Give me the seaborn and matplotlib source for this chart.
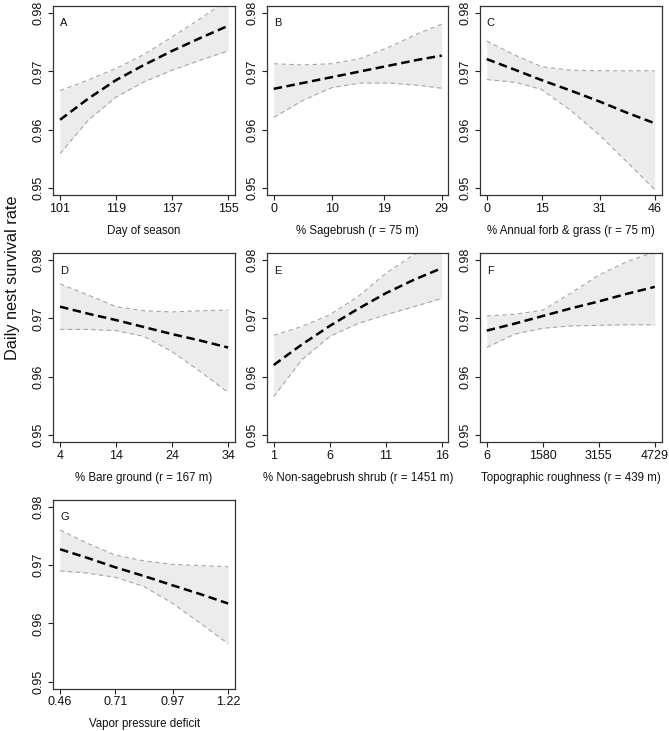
import matplotlib
matplotlib.use('Agg')
import matplotlib.pyplot as plt
import seaborn as sns

# Panel letters and x axis labels
letters = ['A', 'B', 'C', 'D', 'E', 'F', 'G']
x_labels = ['Day of season',
            '% Sagebrush (r = 75 m)',
            '% Annual forb & grass (r = 75 m)',
            '% Bare ground (r = 167 m)',
            '% Non-sagebrush shrub (r = 1451 m)',
            'Topographic roughness (r = 439 m)',
            'Vapor pressure deficit']
y_label = 'Daily nest survival rate'
y_ticks = [0.95, 0.96, 0.97, 0.98]
y_tick_labels = ['0.95', '0.96', '0.97', '0.98']

# A - day of season
a_ticks = [101, 119, 137, 155]
a_x = [101, 110, 119, 128, 137, 146, 155]
a_est = [0.9617, 0.9653, 0.9685, 0.9711, 0.9735, 0.9757, 0.9778]
a_hi = [0.9667, 0.9685, 0.9705, 0.9729, 0.9759, 0.9790, 0.9823]
a_lo = [0.9559, 0.9616, 0.9656, 0.9682, 0.9702, 0.9719, 0.9735]

# B - sagebrush
b_ticks = [0, 10, 19, 29]
b_x = [0, 5, 10, 15, 20, 25, 29]
b_est = [0.9670, 0.9680, 0.9690, 0.9700, 0.9710, 0.9720, 0.9727]
b_hi = [0.9713, 0.9711, 0.9713, 0.9722, 0.9742, 0.9765, 0.9781]
b_lo = [0.9621, 0.9650, 0.9672, 0.9680, 0.9680, 0.9676, 0.9671]

# C - annual forb & grass
c_ticks = [0, 15, 31, 46]
c_x = [0, 8, 15, 23, 31, 38, 46]
c_est = [0.9721, 0.9702, 0.9685, 0.9667, 0.9648, 0.9630, 0.9611]
c_hi = [0.9752, 0.9727, 0.9708, 0.9702, 0.9701, 0.9701, 0.9701]
c_lo = [0.9686, 0.9681, 0.9669, 0.9633, 0.9590, 0.9547, 0.9497]

# D - bare ground
d_ticks = [4, 14, 24, 34]
d_x = [4, 9, 14, 19, 24, 29, 34]
d_est = [0.9720, 0.9708, 0.9697, 0.9685, 0.9673, 0.9662, 0.9650]
d_hi = [0.9759, 0.9740, 0.9720, 0.9713, 0.9711, 0.9713, 0.9714]
d_lo = [0.9681, 0.9681, 0.9679, 0.9669, 0.9643, 0.9609, 0.9573]

# E - non-sagebrush shrub
e_ticks = [1, 6, 11, 16]
e_x = [1, 3.5, 6, 8.5, 11, 13.5, 16]
e_est = [0.9620, 0.9655, 0.9687, 0.9716, 0.9743, 0.9766, 0.9786]
e_hi = [0.9671, 0.9686, 0.9706, 0.9737, 0.9777, 0.9809, 0.9834]
e_lo = [0.9566, 0.9629, 0.9669, 0.9691, 0.9706, 0.9720, 0.9734]

# F - topographic roughness
f_ticks = [6, 1580, 3155, 4729]
f_x = [6, 793, 1580, 2367, 3155, 3942, 4729]
f_est = [0.9679, 0.9691, 0.9704, 0.9717, 0.9729, 0.9742, 0.9754]
f_hi = [0.9704, 0.9707, 0.9714, 0.9743, 0.9774, 0.9797, 0.9814]
f_lo = [0.9650, 0.9673, 0.9683, 0.9687, 0.9688, 0.9689, 0.9689]

# G - vapor pressure deficit
g_ticks = [0.46, 0.71, 0.97, 1.22]
g_tick_labels = ['0.46', '0.71', '0.97', '1.22']
g_x = [0.46, 0.585, 0.71, 0.84, 0.97, 1.095, 1.22]
g_est = [0.9727, 0.9712, 0.9696, 0.9681, 0.9665, 0.9650, 0.9634]
g_hi = [0.9760, 0.9737, 0.9717, 0.9707, 0.9701, 0.9699, 0.9697]
g_lo = [0.9690, 0.9686, 0.9679, 0.9663, 0.9634, 0.9600, 0.9565]

panels = [
    (a_x, a_est, a_lo, a_hi, a_ticks, [str(t) for t in a_ticks]),
    (b_x, b_est, b_lo, b_hi, b_ticks, [str(t) for t in b_ticks]),
    (c_x, c_est, c_lo, c_hi, c_ticks, [str(t) for t in c_ticks]),
    (d_x, d_est, d_lo, d_hi, d_ticks, [str(t) for t in d_ticks]),
    (e_x, e_est, e_lo, e_hi, e_ticks, [str(t) for t in e_ticks]),
    (f_x, f_est, f_lo, f_hi, f_ticks, [str(t) for t in f_ticks]),
    (g_x, g_est, g_lo, g_hi, g_ticks, g_tick_labels),
]

sns.set_theme(style='ticks')
plt.rcParams['font.family'] = ['Liberation Sans', 'DejaVu Sans']

fig = plt.figure(figsize=(6.69, 7.31), dpi=100)

lefts = [0.0797, 0.3991, 0.7175]
bottoms = [0.7332, 0.3953, 0.0579]
width, height = 0.2713, 0.2586

for i, (x, est, lo, hi, ticks, tlabels) in enumerate(panels):
    ax = fig.add_axes([lefts[i % 3], bottoms[i // 3], width, height])

    # confidence band
    ax.fill_between(x, lo, hi, color='#ececec', lw=0)
    sns.lineplot(x=x, y=hi, ax=ax, color='#a6a6a6', lw=0.8,
                 linestyle=(0, (4, 3)), estimator=None)
    sns.lineplot(x=x, y=lo, ax=ax, color='#a6a6a6', lw=0.8,
                 linestyle=(0, (4, 3)), estimator=None)
    # estimate
    sns.lineplot(x=x, y=est, ax=ax, color='black', lw=1.8,
                 linestyle=(0, (3.4, 1.8)), estimator=None)

    xr = x[-1] - x[0]
    ax.set_xlim(x[0] - 0.04 * xr, x[-1] + 0.04 * xr)
    ax.set_ylim(0.9488, 0.9812)

    ax.set_xticks(ticks)
    ax.set_xticklabels(tlabels)
    ax.set_yticks(y_ticks)
    ax.set_yticklabels(y_tick_labels, rotation=90, va='center')
    ax.tick_params(axis='both', length=3.6, width=0.8, labelsize=9,
                   color='#222222', labelcolor='#111111')
    ax.tick_params(axis='x', pad=2)
    ax.tick_params(axis='y', pad=2.5)

    for sp in ax.spines.values():
        sp.set_visible(True)
        sp.set_color('#333333')
        sp.set_linewidth(0.9)

    ax.set_xlabel(x_labels[i], fontsize=8.3, labelpad=7, color='#111111')
    ax.set_ylabel('')
    ax.text(x[0], 0.9782, letters[i], ha='left', va='center',
            fontsize=8, color='#111111')

fig.text(0.018, 0.62, y_label, rotation=90, ha='center', va='center',
         fontsize=11.7, color='#111111')

fig.savefig('out.png', dpi=100)
